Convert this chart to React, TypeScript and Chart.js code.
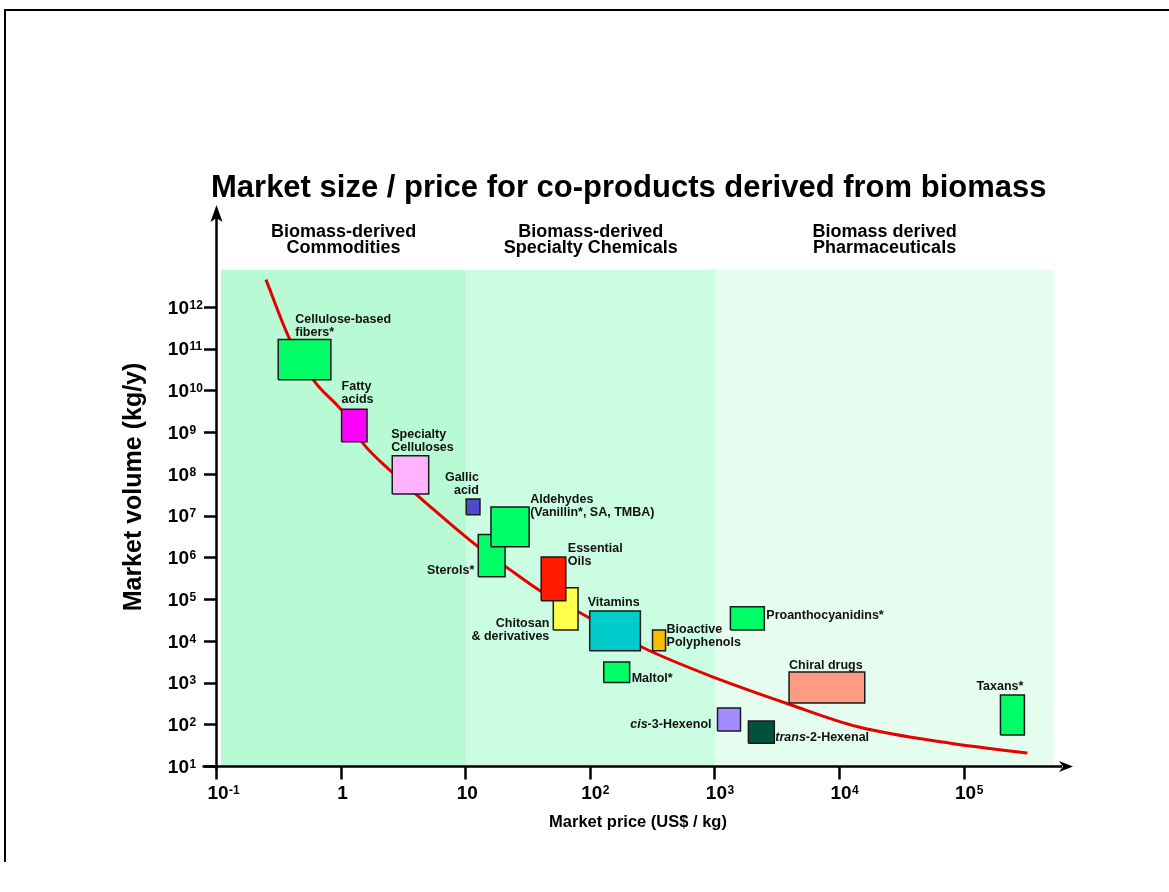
import { useEffect, useRef } from 'react';
import { Chart, registerables } from 'chart.js';

Chart.register(...registerables);

const FONT = '"Liberation Sans", Arial, Helvetica, sans-serif';

// ---------- data ----------
const chartTitle = 'Market size / price for co-products derived from biomass';
const xAxisTitle = 'Market price (US$ / kg)';
const yAxisTitle = 'Market volume (kg/y)';

const xTickExps = [-1, 0, 1, 2, 3, 4, 5];
const yTickExps = [1, 2, 3, 4, 5, 6, 7, 8, 9, 10, 11, 12];

const bandPriceLow = [0.1077, 10, 1000];
const bandPriceHigh = [10, 1000, 520000];
const bandVolLow = 10;
const bandVolHigh = 7.7e12;
const bandHeadings = [
  ['Biomass-derived', 'Commodities'],
  ['Biomass-derived', 'Specialty Chemicals'],
  ['Biomass derived', 'Pharmaceuticals'],
];

const curvePrice = [0.247, 0.384, 0.608, 1.02, 1.47, 2.56, 5.25, 12.7, 20.9, 40.5, 80, 256, 1000, 4055, 13900, 77300, 319000];
const curveVolume = [4.5e12, 1.66e11, 1.62e10, 3.1e9, 5.6e8, 1.07e8, 1.55e7, 1.7e6, 5.9e5, 1.48e5, 4.9e4, 7.1e3, 1.29e3, 290, 87, 35, 20.4];

const productNames = [
  'Cellulose-based fibers*', 'Fatty acids', 'Specialty Celluloses', 'Gallic acid', 'Sterols*',
  'Aldehydes', 'Chitosan & derivatives', 'Essential Oils', 'Vitamins', 'Bioactive Polyphenols',
  'Maltol*', 'Proanthocyanidins*', 'Chiral drugs', 'Taxans*', 'cis-3-Hexenol', 'trans-2-Hexenal',
];
const priceLow = [0.31, 1.0, 2.55, 10, 12.5, 15.8, 50, 40, 98, 313, 127, 1320, 3900, 194000, 1040, 1840];
const priceHigh = [0.82, 1.6, 5.0, 12.9, 20.5, 32, 79, 63, 250, 398, 205, 2470, 15800, 302000, 1590, 2970];
const volumeLow = [1.8e10, 5.9e8, 3.3e7, 1.05e7, 3.4e5, 1.8e6, 1.8e4, 9.1e4, 5.8e3, 5.8e3, 1.0e3, 1.8e4, 324, 55, 69, 35];
const volumeHigh = [1.66e11, 3.5e9, 2.7e8, 2.5e7, 3.5e6, 1.6e7, 1.86e5, 1.02e6, 5.2e4, 1.8e4, 3.1e3, 6.5e4, 1780, 500, 245, 120];

const labelLines: string[][] = [
  ['Cellulose-based', 'fibers*'],
  ['Fatty', 'acids'],
  ['Specialty', 'Celluloses'],
  ['Gallic', 'acid'],
  ['Sterols*'],
  ['Aldehydes', '(Vanillin*, SA, TMBA)'],
  ['Chitosan', '& derivatives'],
  ['Essential', 'Oils'],
  ['Vitamins'],
  ['Bioactive', 'Polyphenols'],
  ['Maltol*'],
  ['Proanthocyanidins*'],
  ['Chiral drugs'],
  ['Taxans*'],
  ['_cis_-3-Hexenol'],
  ['_trans_-2-Hexenal'],
];

// ---------- styles / layout ----------
const boxColors = [
  '#00ff66', '#ff00ff', '#ffb3ff', '#4b4bcc', '#00ff66', '#00ff66', '#ffff4d', '#ff1a00',
  '#00cccc', '#ffbb00', '#00ff66', '#00ff66', '#ff9b80', '#00ff66', '#a28cff', '#00533a',
];
const bandColors = ['#b8fad4', '#cbfde2', '#e4fdef'];

type LabelLayout = { ref: string; dx: number; dy: number; align: 'left' | 'right' };
const labelLayout: LabelLayout[] = [
  { ref: 'lt', dx: 17, dy: -20, align: 'left' },
  { ref: 'lt', dx: 0, dy: -23, align: 'left' },
  { ref: 'lt', dx: -1, dy: -21, align: 'left' },
  { ref: 'rt', dx: -1, dy: -21, align: 'right' },
  { ref: 'lb', dx: -4, dy: -6, align: 'right' },
  { ref: 'rt', dx: 1, dy: -7, align: 'left' },
  { ref: 'lb', dx: -4, dy: -7, align: 'right' },
  { ref: 'rt', dx: 2, dy: -8, align: 'left' },
  { ref: 'lt', dx: -2, dy: -8, align: 'left' },
  { ref: 'rt', dx: 1, dy: -1, align: 'left' },
  { ref: 'rb', dx: 2, dy: -4, align: 'left' },
  { ref: 'rt', dx: 2, dy: 9, align: 'left' },
  { ref: 'lt', dx: 0, dy: -7, align: 'left' },
  { ref: 'rt', dx: -1, dy: -9, align: 'right' },
  { ref: 'lb', dx: -6, dy: -6, align: 'right' },
  { ref: 'rb', dx: 1, dy: -6, align: 'left' },
];

const LABEL_SIZE = 12.5;
const LINE_GAP = 13;

function parseSegments(s: string) {
  const parts = s.split('_');
  return parts.map((t, i) => ({ t, italic: i % 2 === 1 })).filter((p) => p.t.length > 0);
}

function drawPow(ctx: CanvasRenderingContext2D, base: string, exp: string, x: number, y: number, align: 'center' | 'right', baseSize: number, supSize: number) {
  ctx.font = `bold ${baseSize}px ${FONT}`;
  const bw = ctx.measureText(base).width;
  const left = align === 'center' ? x - bw / 2 : x - bw;
  ctx.textAlign = 'left';
  ctx.textBaseline = 'alphabetic';
  const baseline = y + (baseSize * 0.716) / 2;
  ctx.fillText(base, left, baseline);
  if (exp) {
    ctx.font = `bold ${supSize}px ${FONT}`;
    ctx.fillText(exp, left + bw + 0.5, baseline - baseSize * 0.716 + supSize * 0.716);
  }
}

function xPowParts(e: number): [string, string] {
  if (e === 0) return ['1', ''];
  if (e === 1) return ['10', ''];
  return ['10', String(e)];
}

const bandsPlugin = {
  id: 'bands',
  beforeDatasetsDraw(chart: any) {
    const { ctx } = chart;
    const xs = chart.scales.x;
    const ys = chart.scales.y;
    ctx.save();
    const yT = ys.getPixelForValue(bandVolHigh);
    const yB = ys.getPixelForValue(bandVolLow);
    for (let i = 0; i < bandPriceLow.length; i++) {
      const x1 = xs.getPixelForValue(bandPriceLow[i]);
      const x2 = xs.getPixelForValue(bandPriceHigh[i]);
      ctx.fillStyle = bandColors[i];
      ctx.fillRect(x1, yT, x2 - x1, yB - yT);
    }
    ctx.restore();
  },
};

const decorPlugin = {
  id: 'decor',
  afterDatasetsDraw(chart: any) {
    const { ctx, chartArea } = chart;
    const xs = chart.scales.x;
    const ys = chart.scales.y;
    ctx.save();

    // product labels
    ctx.fillStyle = '#111';
    ctx.textBaseline = 'middle';
    for (let i = 0; i < labelLines.length; i++) {
      const L = labelLayout[i];
      const bx = L.ref[0] === 'l' ? xs.getPixelForValue(priceLow[i]) : xs.getPixelForValue(priceHigh[i]);
      const by = L.ref[1] === 't' ? ys.getPixelForValue(volumeHigh[i]) : ys.getPixelForValue(volumeLow[i]);
      const lines = labelLines[i];
      lines.forEach((line, li) => {
        const segs = parseSegments(line);
        let total = 0;
        const widths = segs.map((sg) => {
          ctx.font = `${sg.italic ? 'italic ' : ''}bold ${LABEL_SIZE}px ${FONT}`;
          const w = ctx.measureText(sg.t).width;
          total += w;
          return w;
        });
        let cx = L.align === 'left' ? bx + L.dx : bx + L.dx - total;
        const cy = by + L.dy + li * LINE_GAP;
        ctx.textAlign = 'left';
        segs.forEach((sg, si) => {
          ctx.font = `${sg.italic ? 'italic ' : ''}bold ${LABEL_SIZE}px ${FONT}`;
          ctx.fillText(sg.t, cx, cy);
          cx += widths[si];
        });
      });
    }

    // axes
    const ax = chartArea.left - 0.5;
    const ay = chartArea.bottom + 0.5;
    ctx.strokeStyle = '#000';
    ctx.fillStyle = '#000';
    ctx.lineWidth = 2.5;
    ctx.beginPath();
    ctx.moveTo(ax, ay + 3);
    ctx.lineTo(ax, chartArea.top + 12);
    ctx.moveTo(ax - 14, ay);
    ctx.lineTo(chartArea.right - 10, ay);
    ctx.stroke();
    // arrowheads
    ctx.beginPath();
    ctx.moveTo(ax, chartArea.top);
    ctx.lineTo(ax - 6, chartArea.top + 17);
    ctx.lineTo(ax, chartArea.top + 13);
    ctx.lineTo(ax + 6, chartArea.top + 17);
    ctx.closePath();
    ctx.fill();
    ctx.beginPath();
    ctx.moveTo(chartArea.right + 1, ay);
    ctx.lineTo(chartArea.right - 13, ay - 5.5);
    ctx.lineTo(chartArea.right - 9, ay);
    ctx.lineTo(chartArea.right - 13, ay + 5.5);
    ctx.closePath();
    ctx.fill();

    // ticks
    ctx.beginPath();
    for (const e of yTickExps) {
      const py = Math.round(ys.getPixelForValue(Math.pow(10, e))) + 0.5;
      ctx.moveTo(ax - 12.5, py);
      ctx.lineTo(ax, py);
    }
    for (const e of xTickExps) {
      const px = Math.round(xs.getPixelForValue(Math.pow(10, e))) - 0.5;
      ctx.moveTo(px, ay);
      ctx.lineTo(px, ay + 13);
    }
    ctx.stroke();

    ctx.fillStyle = '#000';
    for (const e of yTickExps) {
      const py = ys.getPixelForValue(Math.pow(10, e));
      drawPow(ctx, '10', String(e), ax - 27.5, py, 'right', 19, 12);
    }
    for (const e of xTickExps) {
      const px = xs.getPixelForValue(Math.pow(10, e));
      const [b, s] = xPowParts(e);
      drawPow(ctx, b, s, px + 1, ay + 25.5, 'center', 19, 12);
    }

    // axis titles
    ctx.textAlign = 'center';
    ctx.textBaseline = 'middle';
    ctx.font = `bold 16.5px ${FONT}`;
    ctx.fillText(xAxisTitle, 638, 822);
    ctx.save();
    ctx.translate(134, 487);
    ctx.rotate(-Math.PI / 2);
    ctx.font = `bold 25px ${FONT}`;
    ctx.fillText(yAxisTitle, 0, 0);
    ctx.restore();

    // band headings
    ctx.font = `bold 18px ${FONT}`;
    ctx.textBaseline = 'alphabetic';
    for (let i = 0; i < bandHeadings.length; i++) {
      const x1 = Math.max(xs.getPixelForValue(bandPriceLow[i]), chartArea.left);
      const x2 = xs.getPixelForValue(bandPriceHigh[i]);
      const cx = (x1 + x2) / 2;
      ctx.fillText(bandHeadings[i][0], cx, 237);
      ctx.fillText(bandHeadings[i][1], cx, 253);
    }

    // title
    ctx.textAlign = 'left';
    ctx.font = `bold 31px ${FONT}`;
    ctx.fillText(chartTitle, 211, 197);

    // frame
    ctx.lineWidth = 2;
    ctx.beginPath();
    ctx.moveTo(4, 10);
    ctx.lineTo(1169, 10);
    ctx.moveTo(5, 9);
    ctx.lineTo(5, 862);
    ctx.stroke();

    ctx.restore();
  },
};

export default function App() {
  const ref = useRef<HTMLCanvasElement | null>(null);

  useEffect(() => {
    if (!ref.current) return;
    const curve = {
      label: 'trend',
      data: curvePrice.map((p, i) => ({ x: p, y: curveVolume[i] })),
      showLine: true,
      borderColor: '#e60000',
      borderWidth: 3,
      pointRadius: 0,
      tension: 0.4,
      cubicInterpolationMode: 'monotone',
      fill: false,
      order: 100,
    };
    const boxes = productNames.map((name, i) => ({
      label: name,
      data: [
        { x: priceLow[i], y: volumeLow[i] },
        { x: priceHigh[i], y: volumeLow[i] },
        { x: priceHigh[i], y: volumeHigh[i] },
        { x: priceLow[i], y: volumeHigh[i] },
        { x: priceLow[i], y: volumeLow[i] },
      ],
      showLine: true,
      tension: 0,
      fill: 'shape',
      backgroundColor: boxColors[i],
      borderColor: '#1a1a1a',
      borderWidth: 1.5,
      borderJoinStyle: 'miter',
      pointRadius: 0,
      order: -i,
    }));
    const chart = new Chart(ref.current, {
      type: 'scatter',
      data: { datasets: [curve, ...boxes] as any },
      options: {
        animation: false,
        responsive: false,
        devicePixelRatio: 1,
        layout: { padding: { left: 217, right: 97, top: 205, bottom: 126 } },
        scales: {
          x: { type: 'logarithmic', min: 0.1, max: Math.pow(10, 5.862), display: false },
          y: { type: 'logarithmic', min: 10, max: Math.pow(10, 14.44), display: false },
        },
        plugins: {
          legend: { display: false },
          tooltip: { enabled: false },
          title: { display: false },
        },
      } as any,
      plugins: [bandsPlugin, decorPlugin],
    });
    return () => chart.destroy();
  }, []);

  return (
    <div style={{ position: 'absolute', left: 0, top: 0, width: 1169, height: 892, background: '#fff' }}>
      <canvas ref={ref} width={1169} height={892} style={{ display: 'block' }} />
    </div>
  );
}
